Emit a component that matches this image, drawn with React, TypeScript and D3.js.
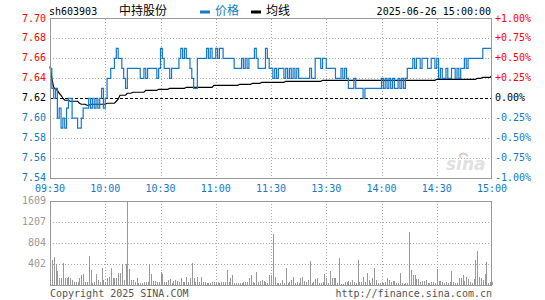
import React from 'react';
import * as d3 from 'd3';

const symbol = 'sh603903';
const stockName = '中持股份';
const stamp = '2025-06-26 15:00:00';
const prevClose = 7.62;
const priceTicks = [7.7, 7.68, 7.66, 7.64, 7.62, 7.6, 7.58, 7.56, 7.54];
const pctTicks = ['+1.00%', '+0.75%', '+0.50%', '+0.25%', '0.00%', '-0.25%', '-0.50%', '-0.75%', '-1.00%'];
const timeLabels = ['09:30', '10:00', '10:30', '11:00', '11:30', '13:30', '14:00', '14:30', '15:00'];
const volTicks = [1609, 1207, 804, 402];

// one value per minute, 09:30 .. 15:00 (11:30/13:00 merged)
const price = [
  7.65, 7.63, 7.62, 7.63, 7.60, 7.61, 7.59, 7.60, 7.59, 7.61,
  7.62, 7.62, 7.60, 7.60, 7.60, 7.59, 7.59, 7.60, 7.61, 7.61,
  7.61, 7.62, 7.61, 7.62, 7.61, 7.62, 7.61, 7.62, 7.63, 7.61,
  7.62, 7.64, 7.64, 7.65, 7.65, 7.66, 7.67, 7.66, 7.66, 7.65,
  7.64, 7.63, 7.65, 7.65, 7.65, 7.65, 7.65, 7.65, 7.65, 7.64,
  7.64, 7.65, 7.64, 7.65, 7.65, 7.65, 7.65, 7.65, 7.64, 7.65,
  7.67, 7.66, 7.65, 7.65, 7.65, 7.64, 7.65, 7.65, 7.65, 7.65,
  7.66, 7.67, 7.66, 7.67, 7.66, 7.66, 7.65, 7.64, 7.63, 7.63,
  7.66, 7.66, 7.66, 7.66, 7.66, 7.67, 7.66, 7.67, 7.66, 7.66,
  7.67, 7.66, 7.67, 7.67, 7.66, 7.66, 7.66, 7.66, 7.66, 7.66,
  7.65, 7.65, 7.65, 7.65, 7.66, 7.65, 7.66, 7.65, 7.66, 7.66,
  7.66, 7.67, 7.66, 7.65, 7.65, 7.65, 7.65, 7.67, 7.66, 7.65,
  7.65, 7.64, 7.65, 7.64, 7.65, 7.65, 7.65, 7.64, 7.65, 7.64,
  7.65, 7.64, 7.65, 7.64, 7.65, 7.64, 7.64, 7.64, 7.64, 7.64,
  7.64, 7.65, 7.64, 7.64, 7.66, 7.66, 7.66, 7.65, 7.66, 7.66,
  7.65, 7.65, 7.65, 7.65, 7.65, 7.64, 7.64, 7.64, 7.65, 7.64,
  7.65, 7.64, 7.63, 7.63, 7.63, 7.64, 7.63, 7.63, 7.63, 7.63,
  7.62, 7.63, 7.63, 7.63, 7.63, 7.63, 7.63, 7.63, 7.63, 7.63,
  7.64, 7.63, 7.64, 7.63, 7.64, 7.63, 7.64, 7.63, 7.63, 7.64,
  7.63, 7.64, 7.63, 7.64, 7.65, 7.65, 7.65, 7.66, 7.65, 7.66,
  7.66, 7.65, 7.66, 7.66, 7.66, 7.65, 7.65, 7.66, 7.66, 7.65,
  7.66, 7.64, 7.65, 7.64, 7.64, 7.65, 7.64, 7.64, 7.65, 7.65,
  7.64, 7.65, 7.64, 7.65, 7.65, 7.66, 7.65, 7.66, 7.66, 7.66,
  7.66, 7.66, 7.66, 7.66, 7.66, 7.67, 7.67, 7.67, 7.67, 7.67,
  7.67,
];

const avgPrice = [
  7.652, 7.640, 7.631, 7.629, 7.628, 7.625, 7.623, 7.620, 7.618, 7.618,
  7.618, 7.617, 7.617, 7.617, 7.617, 7.617, 7.615, 7.614, 7.614, 7.614,
  7.613, 7.613, 7.614, 7.614, 7.614, 7.614, 7.614, 7.614, 7.614, 7.614,
  7.614, 7.615, 7.615, 7.615, 7.615, 7.615, 7.617, 7.619, 7.623, 7.623,
  7.623, 7.623, 7.625, 7.625, 7.625, 7.626, 7.626, 7.626, 7.626, 7.626,
  7.626, 7.626, 7.628, 7.628, 7.628, 7.628, 7.628, 7.628, 7.628, 7.629,
  7.629, 7.629, 7.629, 7.629, 7.629, 7.630, 7.630, 7.630, 7.630, 7.630,
  7.630, 7.630, 7.630, 7.630, 7.631, 7.631, 7.631, 7.631, 7.631, 7.631,
  7.631, 7.631, 7.631, 7.631, 7.631, 7.631, 7.631, 7.631, 7.631, 7.633,
  7.633, 7.633, 7.633, 7.633, 7.633, 7.633, 7.633, 7.633, 7.633, 7.633,
  7.633, 7.633, 7.633, 7.634, 7.634, 7.634, 7.634, 7.634, 7.634, 7.634,
  7.635, 7.635, 7.635, 7.635, 7.635, 7.636, 7.636, 7.636, 7.636, 7.636,
  7.636, 7.636, 7.636, 7.636, 7.636, 7.636, 7.636, 7.636, 7.637, 7.637,
  7.637, 7.637, 7.637, 7.637, 7.637, 7.637, 7.637, 7.637, 7.637, 7.637,
  7.637, 7.637, 7.637, 7.637, 7.637, 7.637, 7.637, 7.637, 7.638, 7.638,
  7.638, 7.638, 7.638, 7.638, 7.638, 7.638, 7.638, 7.638, 7.638, 7.638,
  7.638, 7.638, 7.638, 7.638, 7.638, 7.638, 7.638, 7.638, 7.638, 7.638,
  7.638, 7.638, 7.638, 7.638, 7.638, 7.638, 7.638, 7.638, 7.638, 7.638,
  7.638, 7.638, 7.638, 7.638, 7.638, 7.638, 7.638, 7.638, 7.638, 7.638,
  7.638, 7.638, 7.638, 7.638, 7.638, 7.638, 7.638, 7.638, 7.638, 7.638,
  7.638, 7.638, 7.638, 7.638, 7.638, 7.638, 7.638, 7.638, 7.638, 7.638,
  7.639, 7.639, 7.639, 7.639, 7.639, 7.639, 7.639, 7.639, 7.639, 7.639,
  7.639, 7.639, 7.639, 7.639, 7.639, 7.639, 7.639, 7.639, 7.639, 7.639,
  7.639, 7.639, 7.640, 7.640, 7.640, 7.641, 7.641, 7.641, 7.641, 7.641,
  7.643,
];

const volume = [
  128, 479, 543, 396, 268, 140, 140, 415, 140, 140,
  160, 128, 96, 51, 51, 51, 140, 190, 204, 51,
  51, 555, 287, 32, 51, 210, 96, 51, 332, 96,
  64, 140, 160, 319, 140, 128, 140, 230, 230, 396,
  96, 396, 1609, 306, 96, 96, 51, 128, 32, 32,
  32, 51, 51, 51, 396, 210, 77, 77, 51, 51,
  242, 210, 51, 51, 96, 115, 32, 77, 96, 77,
  51, 140, 51, 51, 160, 51, 140, 415, 140, 51,
  160, 51, 160, 51, 51, 32, 32, 32, 51, 51,
  32, 51, 32, 51, 51, 51, 287, 51, 140, 190,
  32, 32, 32, 32, 32, 51, 51, 51, 140, 190,
  51, 32, 255, 51, 77, 96, 77, 51, 40, 190,
  190, 970, 160, 32, 32, 32, 96, 32, 332, 32,
  51, 96, 160, 32, 51, 32, 140, 160, 77, 51,
  96, 460, 32, 51, 115, 140, 32, 32, 51, 210,
  140, 32, 268, 140, 140, 140, 40, 523, 13, 13,
  51, 51, 77, 51, 96, 51, 32, 479, 51, 51,
  160, 51, 223, 96, 32, 140, 332, 96, 32, 32,
  32, 32, 51, 140, 96, 51, 77, 77, 32, 32,
  223, 32, 13, 32, 32, 1009, 287, 190, 190, 115,
  115, 51, 77, 77, 96, 32, 32, 51, 51, 32,
  306, 77, 77, 51, 32, 51, 32, 51, 268, 51,
  32, 32, 128, 140, 190, 77, 160, 115, 51, 32,
  115, 479, 651, 160, 140, 96, 204, 447, 32, 60,
  60,
];

const RED = '#f00';
const BLUE = '#1479c9';
const GRID = '#aaa';
const FRAME = '#999';
const MONO = "'DejaVu Sans Mono', monospace";
const CJK = "'Noto Sans CJK SC', sans-serif";

export default function App() {
  const left = 50;
  const right = 492;
  const pTop = 18.5;
  const pBot = 178;
  const vTop = 201;
  const vBot = 285;

  const x = d3.scaleLinear().domain([0, 240]).range([left, right]);
  const y = d3.scaleLinear().domain([7.54, 7.7]).range([pBot, pTop]);
  const yv = d3.scaleLinear().domain([0, 1609]).range([vBot, vTop]);

  const priceLine = d3.line<number>()
    .x((_, i) => x(i))
    .y(d => y(d))
    .curve(d3.curveStepAfter);
  const avgLine = d3.line<number>()
    .x((_, i) => x(i))
    .y(d => y(d));

  const tickColor = (v: number) =>
    Math.abs(v - prevClose) < 1e-6 ? '#000' : v > prevClose ? RED : BLUE;

  const vGrid = d3.range(1, 8).map(i => Math.round(x(i * 30)) + 0.5);

  return (
    <svg width={545} height={300} style={{ position: 'fixed', left: 0, top: 0, background: '#fff' }}
      fontFamily={MONO} fontSize={10}>
      {/* header */}
      <text x={49} y={12} dominantBaseline="middle" fill="#000">{symbol}</text>
      <text x={119} y={12} dominantBaseline="middle" fontFamily={CJK} fontSize={12} fill="#000">{stockName}</text>
      <rect x={200} y={10.5} width={10} height={3} fill={BLUE} />
      <text x={215} y={12} dominantBaseline="middle" fontFamily={CJK} fontSize={12} fill={BLUE}>价格</text>
      <rect x={251} y={10.5} width={10} height={3} fill="#000" />
      <text x={266} y={12} dominantBaseline="middle" fontFamily={CJK} fontSize={12} fill="#000">均线</text>
      <text x={491} y={12} dominantBaseline="middle" textAnchor="end" fill="#000">{stamp}</text>

      {/* price panel grid */}
      <g shapeRendering="crispEdges">
        {priceTicks.slice(1, -1).filter(v => Math.abs(v - prevClose) > 1e-6).map(v => (
          <line key={v} x1={left} x2={right} y1={Math.round(y(v)) + 0.5} y2={Math.round(y(v)) + 0.5}
            stroke={GRID} strokeDasharray="1,2" />
        ))}
        {vGrid.map(gx => (
          <line key={gx} x1={gx} x2={gx} y1={pTop} y2={pBot} stroke={GRID} strokeDasharray="1,2" />
        ))}
        <line x1={left} x2={right} y1={Math.round(y(prevClose)) + 0.5} y2={Math.round(y(prevClose)) + 0.5}
          stroke="#000" strokeDasharray="3,2" />
      </g>

      {/* watermark */}
      <g opacity={0.9}>
        <text x={446} y={170} fontFamily="'DejaVu Sans', sans-serif" fontSize={17} fontStyle="italic"
          fontWeight="bold" fill="#ddd">sina</text>
        <path d="M459,156 q4,-5 9,0" fill="none" stroke="#e3c0c0" strokeWidth={2} />
      </g>

      <path d={avgLine(avgPrice) ?? ''} fill="none" stroke="#000" strokeWidth={1.2} />
      <path d={priceLine(price) ?? ''} fill="none" stroke={BLUE} strokeWidth={1.2} />

      <rect x={left + 0.5} y={pTop} width={right - left - 1} height={pBot - pTop} fill="none"
        stroke={FRAME} shapeRendering="crispEdges" />

      {/* price axis labels */}
      {priceTicks.map((v, i) => (
        <g key={v}>
          <text x={46} y={y(v)} textAnchor="end" dominantBaseline="middle" fill={tickColor(v)}>
            {v.toFixed(2)}
          </text>
          <text x={495} y={y(v)} dominantBaseline="middle" fill={tickColor(v)}>{pctTicks[i]}</text>
        </g>
      ))}

      {/* time labels */}
      {timeLabels.map((t, i) => (
        <text key={t} x={x(i * 30)} y={189} textAnchor="middle" dominantBaseline="middle" fill={BLUE}>{t}</text>
      ))}

      {/* volume panel */}
      <g shapeRendering="crispEdges">
        {volTicks.slice(1).map(v => (
          <line key={v} x1={left} x2={right} y1={Math.round(yv(v)) + 0.5} y2={Math.round(yv(v)) + 0.5}
            stroke={GRID} strokeDasharray="1,2" />
        ))}
        {vGrid.map(gx => (
          <line key={gx} x1={gx} x2={gx} y1={vTop} y2={vBot} stroke={GRID} strokeDasharray="1,2" />
        ))}
        {volume.map((v, i) => (
          <rect key={i} x={Math.round(x(i))} y={yv(v)} width={1} height={vBot - yv(v)} fill="#999" />
        ))}
        <rect x={left + 0.5} y={vTop + 0.5} width={right - left - 1} height={vBot - vTop} fill="none" stroke={FRAME} />
      </g>
      {volTicks.map(v => (
        <text key={v} x={46} y={yv(v)} textAnchor="end" dominantBaseline="middle" fill="#999">{v}</text>
      ))}

      <text x={50} y={294} dominantBaseline="middle" fill="#555">Copyright 2025 SINA.COM</text>
      <text x={492} y={294} dominantBaseline="middle" textAnchor="end" fill="#555">http://finance.sina.com.cn</text>
    </svg>
  );
}
